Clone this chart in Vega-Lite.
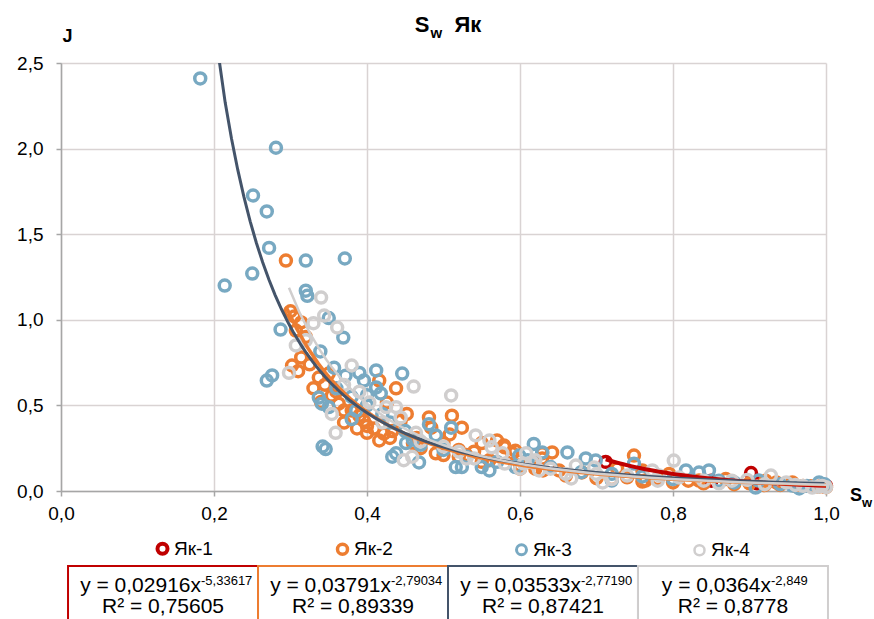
{
  "$schema": "https://vega.github.io/schema/vega-lite/v6.json",
  "background": "white",
  "padding": {"left": 16, "top": 14, "right": 0, "bottom": 0},
  "spacing": 42,
  "datasets": {
    "pts": [
      {"series": "Як-1", "Sw": 0.712, "J": 0.17},
      {"series": "Як-1", "Sw": 0.85, "J": 0.06},
      {"series": "Як-1", "Sw": 0.902, "J": 0.105},
      {"series": "Як-1", "Sw": 0.91, "J": 0.045},
      {"series": "Як-1", "Sw": 0.995, "J": 0.03},
      {"series": "Як-1", "Sw": 0.999, "J": 0.025},
      {"series": "Як-1", "Sw": 1.0, "J": 0.03},

      {"series": "Як-2", "Sw": 0.294, "J": 1.346},
      {"series": "Як-2", "Sw": 0.30, "J": 1.05},
      {"series": "Як-2", "Sw": 0.307, "J": 0.937},
      {"series": "Як-2", "Sw": 0.305, "J": 1.02},
      {"series": "Як-2", "Sw": 0.314, "J": 0.985},
      {"series": "Як-2", "Sw": 0.31, "J": 0.70},
      {"series": "Як-2", "Sw": 0.314, "J": 0.78},
      {"series": "Як-2", "Sw": 0.302, "J": 0.733},
      {"series": "Як-2", "Sw": 0.325, "J": 0.74},
      {"series": "Як-2", "Sw": 0.32, "J": 0.90},
      {"series": "Як-2", "Sw": 0.337, "J": 0.663},
      {"series": "Як-2", "Sw": 0.35, "J": 0.686},
      {"series": "Як-2", "Sw": 0.33, "J": 0.60},
      {"series": "Як-2", "Sw": 0.345, "J": 0.62},
      {"series": "Як-2", "Sw": 0.354, "J": 0.557},
      {"series": "Як-2", "Sw": 0.36, "J": 0.58},
      {"series": "Як-2", "Sw": 0.363, "J": 0.51},
      {"series": "Як-2", "Sw": 0.37, "J": 0.47},
      {"series": "Як-2", "Sw": 0.34, "J": 0.52},
      {"series": "Як-2", "Sw": 0.37, "J": 0.40},
      {"series": "Як-2", "Sw": 0.38, "J": 0.47},
      {"series": "Як-2", "Sw": 0.387, "J": 0.365},
      {"series": "Як-2", "Sw": 0.39, "J": 0.44},
      {"series": "Як-2", "Sw": 0.396, "J": 0.41},
      {"series": "Як-2", "Sw": 0.40, "J": 0.38},
      {"series": "Як-2", "Sw": 0.409, "J": 0.365},
      {"series": "Як-2", "Sw": 0.40, "J": 0.34},
      {"series": "Як-2", "Sw": 0.416, "J": 0.645},
      {"series": "Як-2", "Sw": 0.438, "J": 0.60},
      {"series": "Як-2", "Sw": 0.426, "J": 0.517},
      {"series": "Як-2", "Sw": 0.452, "J": 0.45},
      {"series": "Як-2", "Sw": 0.444, "J": 0.41},
      {"series": "Як-2", "Sw": 0.422, "J": 0.335},
      {"series": "Як-2", "Sw": 0.433, "J": 0.35},
      {"series": "Як-2", "Sw": 0.416, "J": 0.295},
      {"series": "Як-2", "Sw": 0.43, "J": 0.31},
      {"series": "Як-2", "Sw": 0.465, "J": 0.31},
      {"series": "Як-2", "Sw": 0.46, "J": 0.28},
      {"series": "Як-2", "Sw": 0.47, "J": 0.25},
      {"series": "Як-2", "Sw": 0.481, "J": 0.43},
      {"series": "Як-2", "Sw": 0.484, "J": 0.37},
      {"series": "Як-2", "Sw": 0.49, "J": 0.22},
      {"series": "Як-2", "Sw": 0.50, "J": 0.28},
      {"series": "Як-2", "Sw": 0.50, "J": 0.21},
      {"series": "Як-2", "Sw": 0.511, "J": 0.44},
      {"series": "Як-2", "Sw": 0.508, "J": 0.33},
      {"series": "Як-2", "Sw": 0.524, "J": 0.37},
      {"series": "Як-2", "Sw": 0.52, "J": 0.24},
      {"series": "Як-2", "Sw": 0.52, "J": 0.20},
      {"series": "Як-2", "Sw": 0.53, "J": 0.21},
      {"series": "Як-2", "Sw": 0.54, "J": 0.23},
      {"series": "Як-2", "Sw": 0.55, "J": 0.28},
      {"series": "Як-2", "Sw": 0.55, "J": 0.17},
      {"series": "Як-2", "Sw": 0.56, "J": 0.18},
      {"series": "Як-2", "Sw": 0.57, "J": 0.295},
      {"series": "Як-2", "Sw": 0.579, "J": 0.266},
      {"series": "Як-2", "Sw": 0.58, "J": 0.255},
      {"series": "Як-2", "Sw": 0.59, "J": 0.22},
      {"series": "Як-2", "Sw": 0.594, "J": 0.235},
      {"series": "Як-2", "Sw": 0.60, "J": 0.15},
      {"series": "Як-2", "Sw": 0.60, "J": 0.13},
      {"series": "Як-2", "Sw": 0.62, "J": 0.13},
      {"series": "Як-2", "Sw": 0.629, "J": 0.22},
      {"series": "Як-2", "Sw": 0.629, "J": 0.19},
      {"series": "Як-2", "Sw": 0.63, "J": 0.12},
      {"series": "Як-2", "Sw": 0.642, "J": 0.225},
      {"series": "Як-2", "Sw": 0.651, "J": 0.12},
      {"series": "Як-2", "Sw": 0.66, "J": 0.09},
      {"series": "Як-2", "Sw": 0.681, "J": 0.108},
      {"series": "Як-2", "Sw": 0.70, "J": 0.075},
      {"series": "Як-2", "Sw": 0.72, "J": 0.07},
      {"series": "Як-2", "Sw": 0.727, "J": 0.131},
      {"series": "Як-2", "Sw": 0.74, "J": 0.08},
      {"series": "Як-2", "Sw": 0.749, "J": 0.207},
      {"series": "Як-2", "Sw": 0.76, "J": 0.12},
      {"series": "Як-2", "Sw": 0.76, "J": 0.055},
      {"series": "Як-2", "Sw": 0.764, "J": 0.061},
      {"series": "Як-2", "Sw": 0.78, "J": 0.07},
      {"series": "Як-2", "Sw": 0.795, "J": 0.10},
      {"series": "Як-2", "Sw": 0.80, "J": 0.05},
      {"series": "Як-2", "Sw": 0.82, "J": 0.06},
      {"series": "Як-2", "Sw": 0.834, "J": 0.061},
      {"series": "Як-2", "Sw": 0.84, "J": 0.045},
      {"series": "Як-2", "Sw": 0.86, "J": 0.05},
      {"series": "Як-2", "Sw": 0.869, "J": 0.07},
      {"series": "Як-2", "Sw": 0.88, "J": 0.04},
      {"series": "Як-2", "Sw": 0.90, "J": 0.045},
      {"series": "Як-2", "Sw": 0.92, "J": 0.035},
      {"series": "Як-2", "Sw": 0.921, "J": 0.06},
      {"series": "Як-2", "Sw": 0.935, "J": 0.05},
      {"series": "Як-2", "Sw": 0.94, "J": 0.035},
      {"series": "Як-2", "Sw": 0.956, "J": 0.05},
      {"series": "Як-2", "Sw": 0.96, "J": 0.03},
      {"series": "Як-2", "Sw": 0.97, "J": 0.03},
      {"series": "Як-2", "Sw": 0.98, "J": 0.028},
      {"series": "Як-2", "Sw": 0.99, "J": 0.025},
      {"series": "Як-2", "Sw": 0.995, "J": 0.028},
      {"series": "Як-2", "Sw": 1.0, "J": 0.022},

      {"series": "Як-3", "Sw": 0.182, "J": 2.41},
      {"series": "Як-3", "Sw": 0.214, "J": 1.20},
      {"series": "Як-3", "Sw": 0.25, "J": 1.27},
      {"series": "Як-3", "Sw": 0.251, "J": 1.726},
      {"series": "Як-3", "Sw": 0.269, "J": 1.633},
      {"series": "Як-3", "Sw": 0.272, "J": 1.42},
      {"series": "Як-3", "Sw": 0.281, "J": 2.005},
      {"series": "Як-3", "Sw": 0.32, "J": 1.346},
      {"series": "Як-3", "Sw": 0.371, "J": 1.358},
      {"series": "Як-3", "Sw": 0.32, "J": 1.17},
      {"series": "Як-3", "Sw": 0.322, "J": 1.14},
      {"series": "Як-3", "Sw": 0.35, "J": 1.01},
      {"series": "Як-3", "Sw": 0.369, "J": 0.896},
      {"series": "Як-3", "Sw": 0.287, "J": 0.943},
      {"series": "Як-3", "Sw": 0.269, "J": 0.645},
      {"series": "Як-3", "Sw": 0.276, "J": 0.675},
      {"series": "Як-3", "Sw": 0.339, "J": 0.815},
      {"series": "Як-3", "Sw": 0.357, "J": 0.72},
      {"series": "Як-3", "Sw": 0.372, "J": 0.674},
      {"series": "Як-3", "Sw": 0.39, "J": 0.69},
      {"series": "Як-3", "Sw": 0.396, "J": 0.645},
      {"series": "Як-3", "Sw": 0.412, "J": 0.704},
      {"series": "Як-3", "Sw": 0.446, "J": 0.686},
      {"series": "Як-3", "Sw": 0.412, "J": 0.605},
      {"series": "Як-3", "Sw": 0.418, "J": 0.57},
      {"series": "Як-3", "Sw": 0.40, "J": 0.56},
      {"series": "Як-3", "Sw": 0.36, "J": 0.60},
      {"series": "Як-3", "Sw": 0.337, "J": 0.546},
      {"series": "Як-3", "Sw": 0.341, "J": 0.51},
      {"series": "Як-3", "Sw": 0.35, "J": 0.49},
      {"series": "Як-3", "Sw": 0.386, "J": 0.47},
      {"series": "Як-3", "Sw": 0.38, "J": 0.55},
      {"series": "Як-3", "Sw": 0.38, "J": 0.42},
      {"series": "Як-3", "Sw": 0.40, "J": 0.50},
      {"series": "Як-3", "Sw": 0.42, "J": 0.45},
      {"series": "Як-3", "Sw": 0.342, "J": 0.26},
      {"series": "Як-3", "Sw": 0.346, "J": 0.245},
      {"series": "Як-3", "Sw": 0.43, "J": 0.40},
      {"series": "Як-3", "Sw": 0.438, "J": 0.22},
      {"series": "Як-3", "Sw": 0.433, "J": 0.20},
      {"series": "Як-3", "Sw": 0.45, "J": 0.35},
      {"series": "Як-3", "Sw": 0.451, "J": 0.28},
      {"series": "Як-3", "Sw": 0.46, "J": 0.30},
      {"series": "Як-3", "Sw": 0.468, "J": 0.167},
      {"series": "Як-3", "Sw": 0.47, "J": 0.27},
      {"series": "Як-3", "Sw": 0.481, "J": 0.39},
      {"series": "Як-3", "Sw": 0.49, "J": 0.325},
      {"series": "Як-3", "Sw": 0.50, "J": 0.24},
      {"series": "Як-3", "Sw": 0.51, "J": 0.37},
      {"series": "Як-3", "Sw": 0.516, "J": 0.14},
      {"series": "Як-3", "Sw": 0.524, "J": 0.14},
      {"series": "Як-3", "Sw": 0.53, "J": 0.20},
      {"series": "Як-3", "Sw": 0.55, "J": 0.14},
      {"series": "Як-3", "Sw": 0.56, "J": 0.12},
      {"series": "Як-3", "Sw": 0.57, "J": 0.17},
      {"series": "Як-3", "Sw": 0.594, "J": 0.14},
      {"series": "Як-3", "Sw": 0.599, "J": 0.207},
      {"series": "Як-3", "Sw": 0.61, "J": 0.18},
      {"series": "Як-3", "Sw": 0.618, "J": 0.275},
      {"series": "Як-3", "Sw": 0.629, "J": 0.225},
      {"series": "Як-3", "Sw": 0.64, "J": 0.14},
      {"series": "Як-3", "Sw": 0.662, "J": 0.225},
      {"series": "Як-3", "Sw": 0.68, "J": 0.11},
      {"series": "Як-3", "Sw": 0.686, "J": 0.19},
      {"series": "Як-3", "Sw": 0.699, "J": 0.178},
      {"series": "Як-3", "Sw": 0.72, "J": 0.061},
      {"series": "Як-3", "Sw": 0.72, "J": 0.10},
      {"series": "Як-3", "Sw": 0.749, "J": 0.16},
      {"series": "Як-3", "Sw": 0.76, "J": 0.085},
      {"series": "Як-3", "Sw": 0.80, "J": 0.07},
      {"series": "Як-3", "Sw": 0.817, "J": 0.12},
      {"series": "Як-3", "Sw": 0.834, "J": 0.108},
      {"series": "Як-3", "Sw": 0.847, "J": 0.12},
      {"series": "Як-3", "Sw": 0.86, "J": 0.06},
      {"series": "Як-3", "Sw": 0.88, "J": 0.05},
      {"series": "Як-3", "Sw": 0.908, "J": 0.02},
      {"series": "Як-3", "Sw": 0.912, "J": 0.061},
      {"series": "Як-3", "Sw": 0.94, "J": 0.04},
      {"series": "Як-3", "Sw": 0.956, "J": 0.032},
      {"series": "Як-3", "Sw": 0.965, "J": 0.015},
      {"series": "Як-3", "Sw": 0.975, "J": 0.03},
      {"series": "Як-3", "Sw": 0.991, "J": 0.05},
      {"series": "Як-3", "Sw": 0.998, "J": 0.04},

      {"series": "Як-4", "Sw": 0.298, "J": 0.69},
      {"series": "Як-4", "Sw": 0.307, "J": 0.85},
      {"series": "Як-4", "Sw": 0.32, "J": 0.88},
      {"series": "Як-4", "Sw": 0.33, "J": 0.98},
      {"series": "Як-4", "Sw": 0.34, "J": 1.13},
      {"series": "Як-4", "Sw": 0.344, "J": 1.025},
      {"series": "Як-4", "Sw": 0.361, "J": 0.955},
      {"series": "Як-4", "Sw": 0.354, "J": 0.45},
      {"series": "Як-4", "Sw": 0.359, "J": 0.34},
      {"series": "Як-4", "Sw": 0.37, "J": 0.62},
      {"series": "Як-4", "Sw": 0.38, "J": 0.733},
      {"series": "Як-4", "Sw": 0.39, "J": 0.58},
      {"series": "Як-4", "Sw": 0.403, "J": 0.517},
      {"series": "Як-4", "Sw": 0.42, "J": 0.40},
      {"series": "Як-4", "Sw": 0.425, "J": 0.49},
      {"series": "Як-4", "Sw": 0.438, "J": 0.49},
      {"series": "Як-4", "Sw": 0.444, "J": 0.43},
      {"series": "Як-4", "Sw": 0.448, "J": 0.18},
      {"series": "Як-4", "Sw": 0.459, "J": 0.20},
      {"series": "Як-4", "Sw": 0.461, "J": 0.61},
      {"series": "Як-4", "Sw": 0.464, "J": 0.34},
      {"series": "Як-4", "Sw": 0.47, "J": 0.29},
      {"series": "Як-4", "Sw": 0.50, "J": 0.26},
      {"series": "Як-4", "Sw": 0.51, "J": 0.558},
      {"series": "Як-4", "Sw": 0.52, "J": 0.23},
      {"series": "Як-4", "Sw": 0.53, "J": 0.19},
      {"series": "Як-4", "Sw": 0.54, "J": 0.19},
      {"series": "Як-4", "Sw": 0.542, "J": 0.325},
      {"series": "Як-4", "Sw": 0.56, "J": 0.295},
      {"series": "Як-4", "Sw": 0.563, "J": 0.255},
      {"series": "Як-4", "Sw": 0.577, "J": 0.22},
      {"series": "Як-4", "Sw": 0.58, "J": 0.16},
      {"series": "Як-4", "Sw": 0.60, "J": 0.13},
      {"series": "Як-4", "Sw": 0.605, "J": 0.16},
      {"series": "Як-4", "Sw": 0.608, "J": 0.22},
      {"series": "Як-4", "Sw": 0.616, "J": 0.167},
      {"series": "Як-4", "Sw": 0.62, "J": 0.18},
      {"series": "Як-4", "Sw": 0.625, "J": 0.12},
      {"series": "Як-4", "Sw": 0.64, "J": 0.13},
      {"series": "Як-4", "Sw": 0.66, "J": 0.10},
      {"series": "Як-4", "Sw": 0.667, "J": 0.073},
      {"series": "Як-4", "Sw": 0.673, "J": 0.149},
      {"series": "Як-4", "Sw": 0.697, "J": 0.137},
      {"series": "Як-4", "Sw": 0.70, "J": 0.10},
      {"series": "Як-4", "Sw": 0.708, "J": 0.05},
      {"series": "Як-4", "Sw": 0.72, "J": 0.07},
      {"series": "Як-4", "Sw": 0.74, "J": 0.09},
      {"series": "Як-4", "Sw": 0.773, "J": 0.12},
      {"series": "Як-4", "Sw": 0.78, "J": 0.06},
      {"series": "Як-4", "Sw": 0.782, "J": 0.09},
      {"series": "Як-4", "Sw": 0.801, "J": 0.178},
      {"series": "Як-4", "Sw": 0.808, "J": 0.079},
      {"series": "Як-4", "Sw": 0.84, "J": 0.06},
      {"series": "Як-4", "Sw": 0.86, "J": 0.045},
      {"series": "Як-4", "Sw": 0.877, "J": 0.06},
      {"series": "Як-4", "Sw": 0.897, "J": 0.065},
      {"series": "Як-4", "Sw": 0.92, "J": 0.04},
      {"series": "Як-4", "Sw": 0.928, "J": 0.09},
      {"series": "Як-4", "Sw": 0.948, "J": 0.05},
      {"series": "Як-4", "Sw": 0.96, "J": 0.035},
      {"series": "Як-4", "Sw": 0.97, "J": 0.03},
      {"series": "Як-4", "Sw": 0.982, "J": 0.02},
      {"series": "Як-4", "Sw": 0.99, "J": 0.025},
      {"series": "Як-4", "Sw": 0.995, "J": 0.03},
      {"series": "Як-4", "Sw": 1.0, "J": 0.022}
    ],
    "eqs": [
      {"series": "Як-1", "eq": "y = 0,02916x", "exp": "-5,33617", "r2": "R² = 0,75605"},
      {"series": "Як-2", "eq": "y = 0,03791x", "exp": "-2,79034", "r2": "R² = 0,89339"},
      {"series": "Як-3", "eq": "y = 0,03533x", "exp": "-2,77190", "r2": "R² = 0,87421"},
      {"series": "Як-4", "eq": "y = 0,0364x", "exp": "-2,849", "r2": "R² = 0,8778"}
    ]
  },
  "vconcat": [
    {
      "width": 765,
      "height": 428,
      "data": {"name": "pts"},
      "layer": [
        {
          "mark": {"type": "point", "filled": false, "strokeWidth": 3.5, "size": 120, "opacity": 1},
          "encoding": {
            "x": {
              "field": "Sw", "type": "quantitative",
              "scale": {"domain": [0, 1], "nice": false},
              "axis": {
                "title": null,
                "values": [0, 0.2, 0.4, 0.6, 0.8, 1],
                "labelExpr": "replace(format(datum.value, '.1f'), '.', ',')",
                "labelFlush": false,
                "labelPadding": 8
              }
            },
            "y": {
              "field": "J", "type": "quantitative",
              "scale": {"domain": [0, 2.5], "nice": false},
              "axis": {
                "values": [0, 0.5, 1, 1.5, 2, 2.5],
                "labelExpr": "replace(format(datum.value, '.1f'), '.', ',')",
                "labelFlush": false,
                "labelPadding": 13,
                "title": "J",
                "titleAngle": 0,
                "titleAlign": "left",
                "titleBaseline": "alphabetic",
                "titleX": 1,
                "titleY": -22,
                "titleFontSize": 18,
                "titleFontWeight": "bold",
                "titleColor": "#000000",
                "titleFont": "Liberation Sans"
              }
            },
            "color": {
              "field": "series", "type": "nominal",
              "scale": {"domain": ["Як-1", "Як-2", "Як-3", "Як-4"], "range": ["#C00000", "#ED7D31", "#78A9C2", "#D0CECE"]},
              "legend": {
                "title": null,
                "orient": "none",
                "legendX": 92,
                "legendY": 476,
                "direction": "horizontal",
                "symbolType": "circle",
                "symbolSize": 100,
                "symbolStrokeWidth": 3.5,
                "labelFontSize": 19,
                "labelFont": "Liberation Sans",
                "labelColor": "#000000",
                "labelOffset": 2,
                "columnPadding": 117
              }
            }
          }
        },
        {
          "transform": [{"regression": "J", "on": "Sw", "method": "pow", "groupby": ["series"]}],
          "mark": {"type": "line", "clip": true},
          "encoding": {
            "x": {"field": "Sw", "type": "quantitative"},
            "y": {"field": "J", "type": "quantitative"},
            "stroke": {
              "field": "series", "type": "nominal",
              "scale": {"domain": ["Як-1", "Як-2", "Як-3", "Як-4"], "range": ["#C00000", "#ED7D31", "#44546A", "#D0CECE"]},
              "legend": null
            },
            "strokeWidth": {
              "field": "series", "type": "ordinal",
              "scale": {"domain": ["Як-1", "Як-2", "Як-3", "Як-4"], "range": [4, 2.5, 4, 3]},
              "legend": null
            }
          }
        },
        {
          "data": {"values": [{}]},
          "mark": {"type": "text", "text": "S", "fontSize": 22, "fontWeight": "bold", "font": "Liberation Sans", "align": "right", "baseline": "alphabetic", "dx": -14, "dy": -31, "color": "#000000"},
          "encoding": {"x": {"datum": 0.5, "type": "quantitative"}, "y": {"datum": 2.5, "type": "quantitative"}}
        },
        {
          "data": {"values": [{}]},
          "mark": {"type": "text", "text": "w", "fontSize": 15, "fontWeight": "bold", "font": "Liberation Sans", "align": "left", "baseline": "alphabetic", "dx": -13, "dy": -25, "color": "#000000"},
          "encoding": {"x": {"datum": 0.5, "type": "quantitative"}, "y": {"datum": 2.5, "type": "quantitative"}}
        },
        {
          "data": {"values": [{}]},
          "mark": {"type": "text", "text": "Як", "fontSize": 22, "fontWeight": "bold", "font": "Liberation Sans", "align": "left", "baseline": "alphabetic", "dx": 11, "dy": -31, "color": "#000000"},
          "encoding": {"x": {"datum": 0.5, "type": "quantitative"}, "y": {"datum": 2.5, "type": "quantitative"}}
        },
        {
          "data": {"values": [{}]},
          "mark": {"type": "text", "text": "S", "fontSize": 18, "fontWeight": "bold", "font": "Liberation Sans", "align": "left", "baseline": "alphabetic", "dx": 24, "dy": 10, "color": "#000000"},
          "encoding": {"x": {"datum": 1, "type": "quantitative"}, "y": {"datum": 0, "type": "quantitative"}}
        },
        {
          "data": {"values": [{}]},
          "mark": {"type": "text", "text": "w", "fontSize": 13, "fontWeight": "bold", "font": "Liberation Sans", "align": "left", "baseline": "alphabetic", "dx": 36, "dy": 16, "color": "#000000"},
          "encoding": {"x": {"datum": 1, "type": "quantitative"}, "y": {"datum": 0, "type": "quantitative"}}
        }
      ]
    },
    {
      "width": 774,
      "height": 60,
      "data": {"name": "eqs"},
      "encoding": {
        "x": {"field": "series", "type": "nominal", "sort": null, "scale": {"paddingInner": 0, "paddingOuter": 0.037}, "axis": null}
      },
      "layer": [
        {
          "mark": {"type": "rect", "fill": "white", "fillOpacity": 0, "strokeWidth": 2},
          "encoding": {
            "y": {"datum": 0, "type": "quantitative", "scale": {"domain": [0, 1]}, "axis": null},
            "y2": {"datum": 1},
            "stroke": {
              "field": "series", "type": "nominal",
              "scale": {"domain": ["Як-1", "Як-2", "Як-3", "Як-4"], "range": ["#C00000", "#ED7D31", "#44546A", "#D0CECE"]},
              "legend": null
            }
          }
        },
        {
          "mark": {"type": "text", "align": "right", "baseline": "alphabetic", "dx": 38, "fontSize": 21, "font": "Liberation Sans", "color": "#000000"},
          "encoding": {
            "text": {"field": "eq"},
            "y": {"datum": 0.567, "type": "quantitative"}
          }
        },
        {
          "mark": {"type": "text", "align": "left", "baseline": "alphabetic", "dx": 38, "fontSize": 13, "font": "Liberation Sans", "color": "#000000"},
          "encoding": {
            "text": {"field": "exp"},
            "y": {"datum": 0.683, "type": "quantitative"}
          }
        },
        {
          "mark": {"type": "text", "align": "center", "baseline": "alphabetic", "fontSize": 21, "font": "Liberation Sans", "color": "#000000"},
          "encoding": {
            "text": {"field": "r2"},
            "y": {"datum": 0.21, "type": "quantitative"}
          }
        }
      ]
    }
  ],
  "resolve": {"scale": {"x": "independent", "y": "independent"}},
  "config": {
    "font": "Liberation Sans",
    "view": {"stroke": null},
    "axis": {
      "labelFont": "Liberation Sans",
      "labelFontSize": 19,
      "labelColor": "#000000",
      "domainColor": "#A6A6A6",
      "domainWidth": 1.5,
      "tickColor": "#A6A6A6",
      "tickWidth": 1.5,
      "tickSize": 5,
      "gridColor": "#D9D3D3",
      "gridWidth": 1.5
    }
  }
}
